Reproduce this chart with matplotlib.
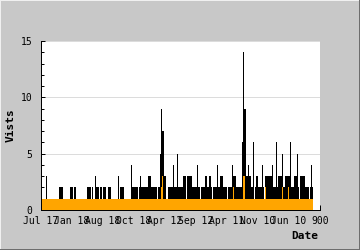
import numpy as np
import matplotlib
matplotlib.use("Agg")
import matplotlib.pyplot as plt
from matplotlib.lines import Line2D

# ---- data (one value per sample) ----
visits = [
    1,1,1,1,1,3,1,1,1,1,1,1,1,1,1,1,1,1,2,2,
    2,2,1,1,1,1,1,1,1,2,2,2,1,2,2,1,1,1,1,1,
    1,1,1,1,1,1,2,2,2,2,1,2,1,1,3,2,2,2,1,2,
    2,1,2,2,2,1,1,2,2,2,1,1,1,1,1,1,1,3,1,2,
    2,2,2,1,1,1,1,1,1,1,4,2,2,2,2,2,2,1,2,3,
    2,2,2,2,2,2,2,3,3,3,2,2,2,2,2,2,1,2,2,5,
    9,7,7,3,3,1,1,2,2,2,2,2,4,2,2,2,5,2,2,2,
    2,2,3,3,3,1,3,3,3,3,3,2,2,2,2,2,4,2,2,1,
    2,2,2,2,3,3,2,2,3,3,2,1,2,2,2,2,4,2,2,3,
    3,3,2,2,2,2,1,2,2,2,2,4,3,3,3,2,2,2,2,2,
    2,6,14,9,9,3,3,4,3,3,2,2,6,1,2,3,3,2,2,2,
    2,4,2,1,3,3,3,3,3,3,3,4,2,2,2,6,2,3,3,3,
    3,5,2,2,3,3,3,3,3,6,2,2,2,3,3,3,5,2,1,3,
    3,3,3,3,2,2,2,2,1,2,4,2,
]
unique = [
    1,1,1,1,1,1,1,1,1,1,1,1,1,1,1,1,1,1,1,1,
    1,1,1,1,1,1,1,1,1,1,1,1,1,1,1,1,1,1,1,1,
    1,1,1,1,1,1,1,1,1,1,1,1,1,1,1,1,1,1,1,1,
    1,1,1,1,1,1,1,1,1,1,1,1,1,1,1,1,1,1,1,1,
    1,1,1,1,1,1,1,1,1,1,1,1,1,1,1,1,1,1,1,1,
    1,1,1,1,1,1,1,1,1,1,1,1,1,1,1,1,1,1,1,1,
    2,3,1,1,1,1,1,1,1,1,1,1,1,1,1,1,1,1,1,1,
    1,1,1,1,1,1,1,1,1,1,1,1,1,1,1,1,1,1,1,1,
    1,1,1,1,1,1,1,1,1,1,1,1,1,1,1,1,1,1,1,1,
    1,1,1,1,1,1,1,1,1,1,1,1,2,1,1,1,1,1,1,1,
    1,1,3,3,1,1,1,1,1,1,1,1,1,1,1,1,1,1,1,1,
    1,1,1,1,2,1,1,1,1,1,1,1,1,1,1,1,1,1,1,1,
    1,2,1,1,1,1,1,2,1,1,1,1,1,1,1,1,1,1,1,1,
    1,1,1,1,1,1,1,1,1,1,1,1,
]
tick_labels = ["Jul 17", "Jan 18", "Aug 18", "Oct 18", "Apr 12",
               "Sep 12", "Apr 11", "Nov 10", "Jun 10", "900"]
tick_step = 31
y_max = 15

BG = "#c8c8c8"
ORANGE = "#ffa500"
FONT = "DejaVu Sans Mono"

plt.rcParams["font.family"] = [FONT, "DejaVu Sans"]

fig = plt.figure(figsize=(3.6, 2.5), dpi=100, facecolor=BG)
ax = fig.add_axes([40.7 / 360, 40 / 250, 279 / 360, 169 / 250])
ax.set_facecolor("white")

n = len(visits)
edges = np.arange(n + 1)
ax.stairs(visits, edges, fill=True, color="black", lw=0, zorder=2)
ax.stairs(unique, edges, fill=True, color=ORANGE, lw=0, zorder=3)

xlim_right = tick_step * (len(tick_labels) - 1)
ax.set_xlim(0, xlim_right)
ax.set_ylim(0, y_max)

ax.set_xticks(np.arange(len(tick_labels)) * tick_step)
ax.set_xticklabels(tick_labels)
ax.set_yticks([0, 5, 10, 15])
ax.set_yticks(np.arange(0, y_max + 1, 1), minor=True)
ax.set_yticklabels(["0", "5", "10", "15"])

ax.tick_params(axis="x", direction="in", length=3.6, width=0.72, color="black",
               labelsize=7, pad=4.2, labelcolor="black")
ax.tick_params(axis="y", which="major", direction="in", length=3.0, width=0.72,
               color="black", labelsize=7, pad=6.0)
ax.tick_params(axis="y", which="minor", direction="in", length=2.4, width=0.72,
               color="black")
for lab in ax.get_xticklabels() + ax.get_yticklabels():
    lab.set_family(FONT)

ax.yaxis.grid(True, which="major", color="#dcdcdc", lw=0.72, zorder=0)
ax.set_axisbelow(True)

for s in ["top", "right"]:
    ax.spines[s].set_visible(False)
for s in ["left", "bottom"]:
    ax.spines[s].set_color("black")
    ax.spines[s].set_linewidth(0.72)
    ax.spines[s].set_zorder(5)

fig.text(10.5 / 360, 1 - 125.5 / 250, "Vists", rotation=90, ha="center",
         va="center", fontsize=8, fontweight="bold", family=FONT)
fig.text(318.5 / 360, 1 - 236 / 250, "Date", ha="right", va="center",
         fontsize=8, fontweight="bold", family=FONT)

# bevelled border of the canvas
fig.add_artist(Line2D([0, 1], [1, 1], transform=fig.transFigure, color="#f0f0f0", lw=1.44))
fig.add_artist(Line2D([0, 0], [0, 1], transform=fig.transFigure, color="#f0f0f0", lw=1.44))
fig.add_artist(Line2D([0, 1], [0, 0], transform=fig.transFigure, color="#6e6e6e", lw=1.44))
fig.add_artist(Line2D([1, 1], [0, 1], transform=fig.transFigure, color="#6e6e6e", lw=1.44))

fig.savefig("out.png", dpi=100, facecolor=BG)
